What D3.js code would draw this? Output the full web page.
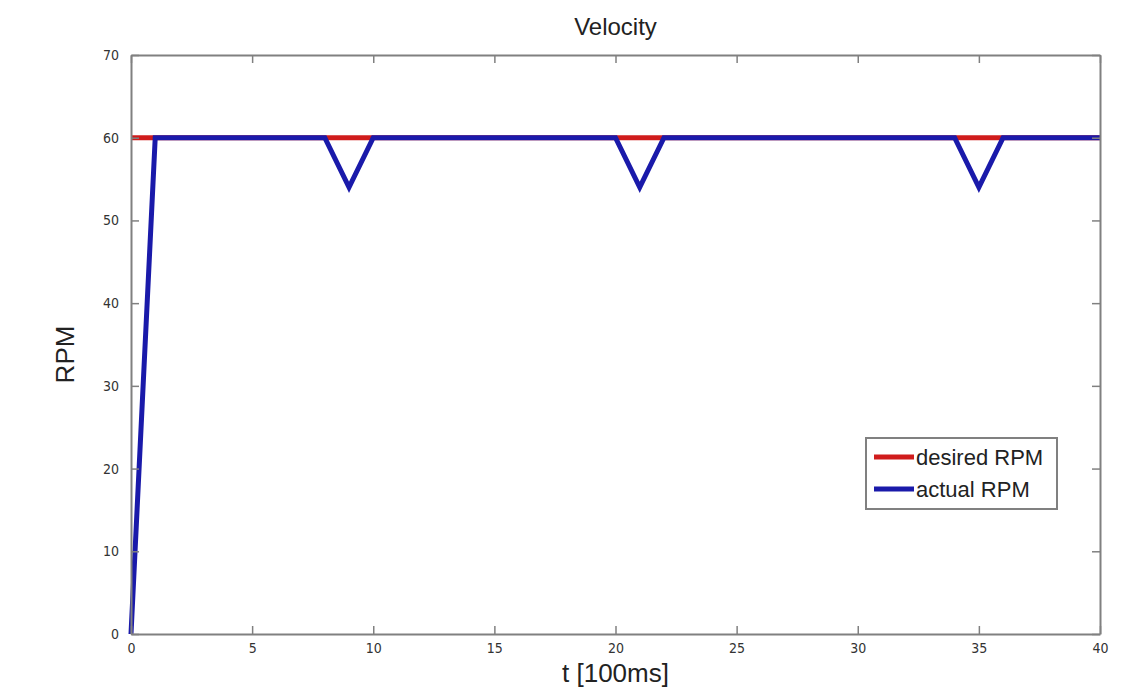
<!DOCTYPE html>
<html>
<head>
<meta charset="utf-8">
<script src="https://cdn.jsdelivr.net/npm/d3@7"></script>
<style>
  body { margin: 0; background: #fff; }
  text { font-family: "Liberation Sans", Arial, sans-serif; }
</style>
</head>
<body>
<div id="chart"></div>
<script>
var width = 1135,
    height = 690;

var margin = {top: 55, right: 35, bottom: 56, left: 131};

// data
var tDesired = [0, 40],
    rpmDesired = [60, 60];
var tActual = [0, 1, 8, 9, 10, 20, 21, 22, 34, 35, 36, 40],
    rpmActual = [0, 60, 60, 54, 60, 60, 54, 60, 60, 54, 60, 60];
var xTicks = [0, 5, 10, 15, 20, 25, 30, 35, 40],
    yTicks = [0, 10, 20, 30, 40, 50, 60, 70];
var seriesNames = ["desired RPM", "actual RPM"],
    seriesColors = ["#d01c1c", "#1a1aaa"];

var x = d3.scaleLinear().domain([0, 40]).range([margin.left, width - margin.right]);
var y = d3.scaleLinear().domain([0, 70]).range([height - margin.bottom, margin.top]);

var svg = d3.select("#chart").append("svg")
  .attr("width", width)
  .attr("height", height);

var line = d3.line()
  .x(function(d) { return x(d[0]); })
  .y(function(d) { return y(d[1]); });

// desired line underneath
svg.append("path")
  .datum(d3.zip(tDesired, rpmDesired))
  .attr("d", line)
  .attr("fill", "none")
  .attr("stroke", seriesColors[0])
  .attr("stroke-width", 5);

svg.append("path")
  .datum(d3.zip(tActual, rpmActual))
  .attr("d", line)
  .attr("fill", "none")
  .attr("stroke", seriesColors[1])
  .attr("stroke-width", 5)
  .attr("stroke-linejoin", "miter");

// axes, matlab style: ticks inward on all 4 sides
var tickStyle = function(g) {
  g.select(".domain").attr("stroke", "#808080").attr("stroke-width", 2);
  g.selectAll(".tick line").attr("stroke", "#808080").attr("stroke-width", 1.5);
  g.selectAll(".tick text").attr("fill", "#333").style("font-size", "14px")
    .style("font-family", "'DejaVu Sans Condensed', 'Liberation Sans Narrow', sans-serif");
};

svg.append("g")
  .attr("transform", "translate(0," + y(0) + ")")
  .call(d3.axisBottom(x).tickValues(xTicks).tickSizeInner(-8).tickSizeOuter(0).tickPadding(9))
  .call(tickStyle);

svg.append("g")
  .attr("transform", "translate(0," + y(70) + ")")
  .call(d3.axisTop(x).tickValues(xTicks).tickSizeInner(-8).tickSizeOuter(0).tickFormat(""))
  .call(tickStyle);

svg.append("g")
  .attr("transform", "translate(" + x(0) + ",0)")
  .call(d3.axisLeft(y).tickValues(yTicks).tickSizeInner(-8).tickSizeOuter(0).tickPadding(12))
  .call(tickStyle);

svg.append("g")
  .attr("transform", "translate(" + x(40) + ",0)")
  .call(d3.axisRight(y).tickValues(yTicks).tickSizeInner(-8).tickSizeOuter(0).tickFormat(""))
  .call(tickStyle);

// title and labels
svg.append("text")
  .attr("x", (x(0) + x(40)) / 2)
  .attr("y", 35)
  .attr("text-anchor", "middle")
  .style("font-size", "24px")
  .attr("fill", "#222")
  .text("Velocity");

svg.append("text")
  .attr("x", (x(0) + x(40)) / 2)
  .attr("y", 682)
  .attr("text-anchor", "middle")
  .style("font-size", "26px")
  .attr("fill", "#222")
  .text("t [100ms]");

svg.append("text")
  .attr("transform", "translate(74," + (y(35) + 10) + ") rotate(-90)")
  .attr("text-anchor", "middle")
  .style("font-size", "26px")
  .attr("fill", "#222")
  .text("RPM");

// legend
var legend = svg.append("g").attr("transform", "translate(866,438)");
legend.append("rect")
  .attr("width", 191)
  .attr("height", 71)
  .attr("fill", "#fff")
  .attr("stroke", "#808080")
  .attr("stroke-width", 2);

seriesNames.forEach(function(name, i) {
  var ly = 19 + i * 32;
  legend.append("line")
    .attr("x1", 8).attr("x2", 48)
    .attr("y1", ly).attr("y2", ly)
    .attr("stroke", seriesColors[i])
    .attr("stroke-width", 5);
  legend.append("text")
    .attr("x", 50)
    .attr("y", ly + 8)
    .style("font-size", "22px")
    .attr("fill", "#222")
    .text(name);
});
</script>
</body>
</html>
